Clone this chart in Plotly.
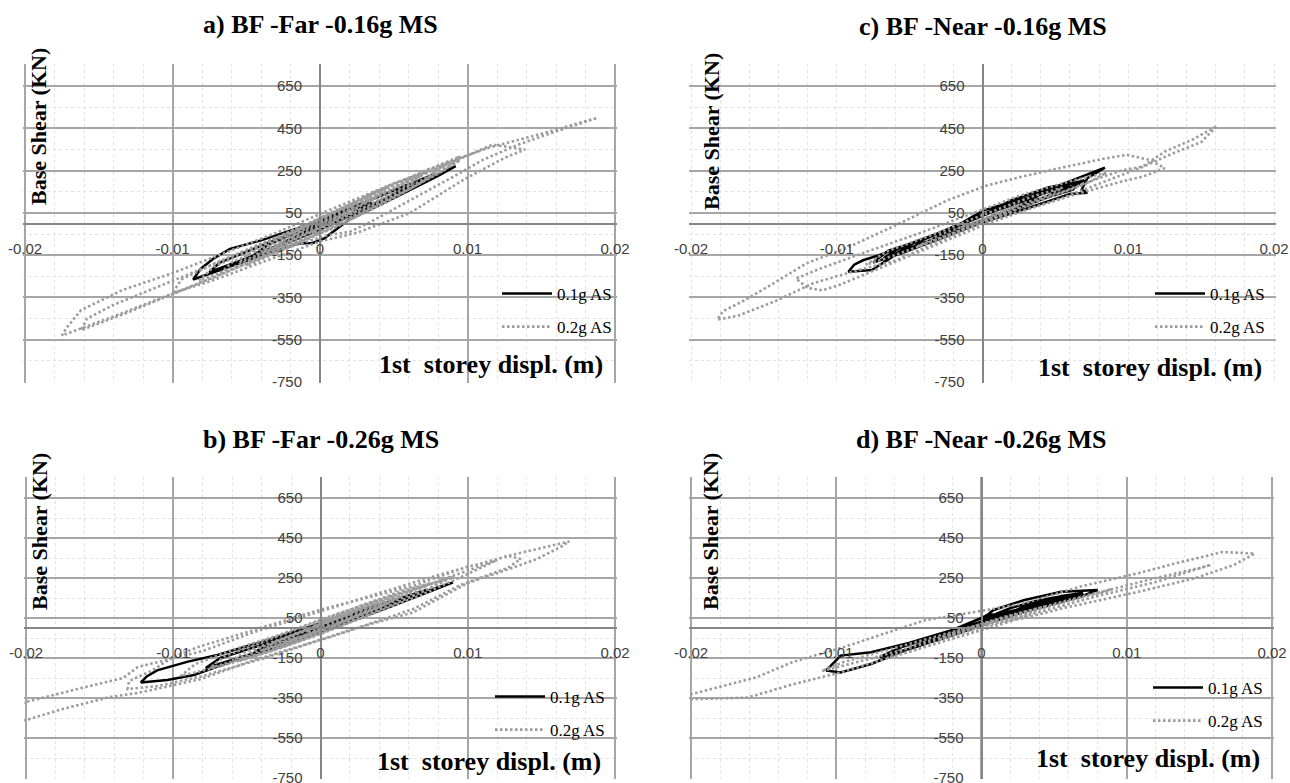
import plotly.graph_objects as go

# ---------------- data (displacement m, base shear kN) ----------------
SERIES_NAMES = ["0.1g AS", "0.2g AS"]
PANEL_TITLES = ["a) BF -Far -0.16g MS", "c) BF -Near -0.16g MS",
                "b) BF -Far -0.26g MS", "d) BF -Near -0.26g MS"]
X_TICKS = [-0.02, -0.01, 0, 0.01, 0.02]
X_TICK_TEXT = ["-0.02", "-0.01", "0", "0.01", "0.02"]
Y_TICKS = [-750, -550, -350, -150, 50, 250, 450, 650]
Y_TICK_TEXT = ["-750", "-550", "-350", "-150", "50", "250", "450", "650"]
X_LIMIT = 0.02
Y_LIMIT = 750
Y_TITLE = "Base Shear (KN)"
X_TITLE = "1st\u00a0 storey displ. (m)"

# a) Far 0.16g MS
FAR016_AS01 = [(0.0, -5), (0.003, 70), (0.006, 165), (0.0092, 271), (0.008, 225), (0.005, 120),
               (0.002, 20), (0.0003, -70), (-0.0005, -92), (-0.0015, -95), (-0.0035, -140),
               (-0.006, -200), (-0.0086, -265), (-0.0081, -215), (-0.0072, -165), (-0.0061, -120),
               (-0.004, -80), (-0.001, -10), (0.0025, 85), (0.006, 185), (0.0078, 235), (0.0065, 185),
               (0.0035, 85), (0.0005, -15), (-0.0025, -100), (-0.0055, -180), (-0.0075, -230),
               (-0.0068, -185), (-0.0045, -120), (-0.0015, -35), (0.0015, 55), (0.0045, 145),
               (0.006, 180), (0.0045, 120), (0.0015, 25), (-0.0015, -65), (-0.0045, -150),
               (-0.0035, -100), (-0.001, -25), (0.002, 65), (0.0035, 100), (0.002, 45),
               (-0.0005, -30), (-0.0025, -90), (-0.001, -40), (0.001, 25)]
FAR016_AS02 = [(0.0, 0), (0.003, 70), (0.006, 160), (0.0095, 300), (0.008, 235), (0.0045, 105),
               (0.001, -20), (-0.003, -130), (-0.007, -250), (-0.0105, -345), (-0.014, -440),
               (-0.0175, -530), (-0.0172, -495), (-0.0162, -410), (-0.0134, -315), (-0.01, -235),
               (-0.0065, -140), (-0.003, -45), (0.0005, 60), (0.0045, 175), (0.0085, 285),
               (0.0115, 360), (0.0145, 415), (0.0168, 460), (0.0188, 500), (0.0162, 440),
               (0.0135, 375), (0.011, 300), (0.009, 220), (0.0061, 110), (0.0035, 10), (0.002, -40),
               (0.0005, -55), (-0.002, -110), (-0.0055, -205), (-0.0095, -320), (-0.013, -420),
               (-0.0162, -505), (-0.0158, -450), (-0.014, -385), (-0.011, -300), (-0.0075, -200),
               (-0.004, -95), (0.0, 20), (0.004, 140), (0.008, 260), (0.0105, 335), (0.0117, 373),
               (0.0139, 350), (0.0125, 310), (0.0098, 210), (0.0061, 50), (0.0025, -44), (0.0, -85),
               (-0.004, -185), (-0.0075, -275), (-0.01, -330), (-0.0094, -265), (-0.007, -185),
               (-0.004, -100), (-0.001, -5), (0.0025, 100), (0.006, 215), (0.0095, 318),
               (0.0085, 255), (0.006, 165), (0.003, 60), (0.0, -40), (-0.004, -150), (-0.0065, -225),
               (-0.0082, -270), (-0.0072, -205), (-0.005, -135), (-0.002, -40), (0.001, 60),
               (0.004, 150), (0.0075, 262), (0.0065, 205), (0.004, 110), (0.001, 10), (-0.002, -85),
               (-0.0055, -185), (-0.0045, -125), (-0.002, -45), (0.001, 50), (0.0045, 170),
               (0.0035, 110), (0.001, 20), (-0.002, -80), (-0.004, -140), (-0.003, -80),
               (-0.001, -10), (0.002, 85), (0.0035, 130), (0.0025, 70), (0.0, -20), (-0.003, -110),
               (-0.002, -50), (0.0, 25), (0.0025, 100), (0.0015, 40), (-0.001, -40), (-0.002, -70),
               (-0.001, -20), (0.001, 50), (0.0, 0), (0.003, 100), (0.0065, 215), (0.0088, 290),
               (0.0075, 230), (0.005, 130), (0.002, 20), (-0.001, -70), (-0.004, -160),
               (-0.0068, -240), (-0.006, -185), (-0.004, -120), (-0.001, -15), (0.002, 90),
               (0.005, 190), (0.0082, 265), (0.007, 200), (0.0045, 100), (0.0015, 0),
               (-0.0015, -95), (-0.005, -200), (-0.0042, -140), (-0.0015, -50), (0.0015, 45),
               (0.0045, 145), (0.007, 240), (0.006, 180), (0.0035, 80), (0.0005, -25),
               (-0.0025, -120), (-0.0035, -130), (-0.002, -60), (0.001, 40), (0.0035, 145),
               (0.0055, 200), (0.0045, 130), (0.002, 40), (-0.0005, -50), (0.0, 0)]

# c) Near 0.16g MS
NEAR016_AS01 = [(0.0, 40), (0.003, 120), (0.0055, 185), (0.0084, 264), (0.0072, 215), (0.0068, 160),
                (0.0072, 145), (0.006, 140), (0.003, 70), (0.0, 5), (-0.003, -75), (-0.006, -150),
                (-0.0076, -220), (-0.0092, -228), (-0.0088, -195), (-0.0082, -174), (-0.0071, -150),
                (-0.005, -95), (-0.002, -20), (0.0, 60), (0.001, 82), (0.003, 120), (0.0055, 175),
                (0.007, 205), (0.0055, 150), (0.003, 90), (0.0005, 25), (-0.0025, -60),
                (-0.0055, -140), (-0.0075, -185), (-0.0065, -130), (-0.004, -75), (-0.001, 10),
                (0.002, 90), (0.005, 160), (0.006, 175), (0.0045, 125), (0.0015, 45), (-0.0015, -35),
                (-0.0045, -110), (-0.006, -145), (-0.0048, -95), (-0.002, -20), (0.001, 65),
                (0.004, 140), (0.003, 95), (0.0005, 30), (-0.0025, -50), (-0.004, -95),
                (-0.0025, -40), (0.0, 40), (0.002, 110), (0.0045, 170), (0.0068, 200),
                (0.0062, 160), (0.004, 115), (0.001, 40), (-0.002, -40), (-0.005, -115),
                (-0.0068, -165), (-0.0058, -120), (-0.0035, -60), (-0.0005, 30), (0.0025, 110),
                (0.0052, 165), (0.0045, 130), (0.002, 70), (-0.001, -10), (-0.0035, -80),
                (-0.005, -125), (-0.004, -75), (-0.0015, 0), (0.0015, 80), (0.0035, 120), (0.0, 40)]
NEAR016_AS02 = [(0.0, 20), (0.003, 100), (0.0055, 150), (0.008, 215), (0.0095, 250), (0.011, 270),
                (0.0125, 340), (0.0145, 400), (0.0161, 462), (0.015, 385), (0.013, 330),
                (0.011, 268), (0.009, 215), (0.0055, 121), (0.0025, 55), (0.0003, 12),
                (-0.003, -85), (-0.006, -175), (-0.009, -230), (-0.0116, -282), (-0.0142, -367),
                (-0.0168, -437), (-0.0182, -455), (-0.0178, -415), (-0.0165, -370), (-0.0145, -290),
                (-0.0121, -189), (-0.0092, -112), (-0.006, -10), (-0.0024, 110), (0.0003, 180),
                (0.0029, 225), (0.0055, 265), (0.0082, 305), (0.0099, 325), (0.0115, 300),
                (0.0125, 262), (0.011, 222), (0.0095, 198), (0.006, 130), (0.003, 65), (0.0, -10),
                (-0.0035, -110), (-0.007, -210), (-0.0098, -290), (-0.011, -316), (-0.012, -305),
                (-0.0128, -260), (-0.011, -210), (-0.008, -135), (-0.0045, -50), (-0.001, 40),
                (0.0025, 130), (0.006, 200), (0.0085, 240), (0.007, 185), (0.004, 110), (0.001, 30),
                (-0.0025, -60), (-0.006, -150), (-0.008, -195), (-0.0065, -130), (-0.0035, -55),
                (0.0, 40), (0.0035, 130), (0.0055, 170), (0.004, 115), (0.001, 35), (-0.002, -45),
                (-0.0045, -110), (-0.003, -55), (0.0, 20), (0.0025, 90), (0.001, 40),
                (-0.0015, -25), (0.0, 20)]

# b) Far 0.26g MS
FAR026_AS01 = [(0.0, 10), (0.003, 80), (0.006, 155), (0.009, 228), (0.0075, 185), (0.0045, 100),
               (0.0015, 20), (-0.0015, -60), (-0.005, -140), (-0.0086, -235), (-0.0104, -260),
               (-0.0122, -272), (-0.0118, -242), (-0.0111, -212), (-0.009, -168), (-0.007, -135),
               (-0.004, -70), (-0.001, 0), (0.0025, 80), (0.006, 160), (0.0072, 190), (0.006, 150),
               (0.003, 70), (0.0, -10), (-0.003, -90), (-0.006, -160), (-0.0078, -200),
               (-0.0068, -150), (-0.004, -85), (-0.001, -10), (0.0025, 70), (0.005, 130),
               (0.0035, 85), (0.0005, 5), (-0.0025, -75), (-0.0045, -120), (-0.003, -70),
               (0.0, 5), (0.0025, 60), (0.001, 15), (-0.0015, -40), (0.0, 10)]
FAR026_AS02 = [(0.0, 30), (0.004, 125), (0.008, 235), (0.0105, 300), (0.0127, 362), (0.0136, 345),
               (0.0127, 300), (0.0095, 215), (0.0063, 95), (0.0035, 25), (-0.0007, -75),
               (-0.0045, -160), (-0.0081, -255), (-0.01, -285), (-0.0124, -325), (-0.0143, -345),
               (-0.0175, -405), (-0.02, -460), (-0.0225, -505), (-0.023, -440), (-0.02, -370),
               (-0.0165, -305), (-0.0134, -250), (-0.0124, -195), (-0.01, -150), (-0.008, -115),
               (-0.0045, -20), (0.0, 85), (0.004, 175), (0.008, 265), (0.011, 325), (0.013, 365),
               (0.015, 400), (0.0169, 433), (0.0163, 405), (0.0147, 345), (0.0127, 292),
               (0.01, 225), (0.0063, 78), (0.0035, 22), (0.0, -60), (-0.004, -155), (-0.008, -240),
               (-0.011, -290), (-0.0131, -305), (-0.013, -265), (-0.0115, -215), (-0.01, -145),
               (-0.0083, -95), (-0.004, 0), (0.0, 92), (0.0063, 210), (0.0099, 305), (0.012, 340),
               (0.01, 270), (0.007, 170), (0.0035, 70), (0.0, -30), (-0.0035, -120),
               (-0.007, -195), (-0.0095, -240), (-0.0085, -180), (-0.006, -110), (-0.003, -40),
               (0.0005, 55), (0.004, 140), (0.0075, 225), (0.0065, 180), (0.004, 110), (0.001, 20),
               (-0.0025, -75), (-0.006, -160), (-0.005, -115), (-0.0025, -50), (0.0005, 35),
               (0.004, 120), (0.0055, 160), (0.004, 105), (0.001, 15), (-0.002, -65),
               (-0.004, -115), (-0.003, -65), (-0.0005, 5), (0.0025, 80), (0.004, 120),
               (0.0025, 65), (0.0, -5), (-0.0025, -75), (-0.0015, -30), (0.0005, 30), (0.002, 70),
               (0.0005, 20), (-0.001, -20), (0.0, 30), (0.003, 120), (0.0065, 200), (0.009, 255),
               (0.0075, 200), (0.005, 120), (0.002, 40), (-0.001, -45), (-0.0045, -135),
               (-0.0075, -200), (-0.0065, -140), (-0.004, -70), (-0.001, 10), (0.0025, 105),
               (0.0055, 185), (0.0085, 240), (0.007, 185), (0.0045, 105), (0.0015, 15),
               (-0.002, -80), (-0.0055, -165), (-0.0045, -110), (-0.002, -40), (0.0015, 60),
               (0.0045, 150), (0.0065, 200), (0.0055, 150), (0.003, 75), (0.0, -15),
               (-0.003, -100), (-0.0035, -90), (-0.0015, -25), (0.001, 50), (0.0035, 125),
               (0.005, 160), (0.0035, 100), (0.001, 25), (0.0, 30)]

# d) Near 0.26g MS
NEAR026_AS01 = [(0.0, 40), (0.0008, 89), (0.0029, 139), (0.0055, 181), (0.008, 190), (0.0075, 175),
                (0.0068, 156), (0.0045, 110), (0.0029, 81), (0.001, 40), (-0.001, -10),
                (-0.004, -75), (-0.0076, -180), (-0.0097, -222), (-0.0107, -213), (-0.0097, -138),
                (-0.0076, -121), (-0.005, -75), (-0.002, -10), (0.0, 50), (0.0005, 70),
                (0.0015, 60), (0.003, 110), (0.0055, 160), (0.007, 175), (0.0055, 140),
                (0.003, 90), (0.001, 45), (-0.0015, -20), (-0.0045, -95), (-0.007, -145),
                (-0.0055, -95), (-0.003, -40), (-0.0005, 20), (0.002, 80), (0.0045, 135),
                (0.006, 155), (0.0045, 115), (0.002, 60), (-0.0005, 0), (-0.003, -60),
                (-0.0045, -90), (-0.003, -50), (0.0, 30), (0.0025, 85), (0.001, 50), (0.0, 40),
                (0.002, 100), (0.004, 140), (0.0065, 170), (0.0058, 145), (0.0035, 110),
                (0.0015, 75), (0.0035, 95), (0.005, 130), (0.004, 120), (0.001, 60), (0.0, 40)]
NEAR026_AS02 = [(0.0, 15), (0.003, 50), (0.0055, 97), (0.0108, 181), (0.0147, 249), (0.0174, 316),
                (0.0188, 372), (0.0166, 380), (0.0134, 324), (0.0108, 274), (0.0068, 207),
                (0.0029, 123), (0.0003, 89), (-0.0039, 39), (-0.0095, -96), (-0.013, -170),
                (-0.0155, -247), (-0.02, -331), (-0.0222, -360), (-0.0222, -380), (-0.02, -356),
                (-0.0161, -348), (-0.0129, -280), (-0.0097, -222), (-0.005, -120), (-0.001, -30),
                (0.003, 60), (0.008, 160), (0.012, 230), (0.0158, 316), (0.015, 300),
                (0.012, 250), (0.008, 175), (0.004, 95), (0.0, 10), (-0.004, -80), (-0.008, -160),
                (-0.011, -215), (-0.0095, -170), (-0.006, -100), (-0.002, -20), (0.002, 60),
                (0.006, 140), (0.009, 195), (0.0075, 150), (0.004, 80), (0.0005, 0),
                (-0.003, -75), (-0.0065, -150), (-0.005, -95), (-0.002, -25), (0.0015, 55),
                (0.0045, 110), (0.003, 65), (0.0, 5), (-0.003, -60), (-0.0015, -20),
                (0.001, 35), (0.0, 15)]

# ---------------- layout helpers ----------------
W, H = 1290, 783
PAD = 1.006  # tiny range padding so the edge grid lines (plot frame) are drawn
SERIF = "Liberation Serif"
SANS = "Liberation Sans"
GRID = "#a6a6a6"
AXIS = "#868686"
TICKC = "#404040"


def fx(p):
    return p / W


def fy(p):
    return 1 - p / H


PANELS = [
    dict(key="", leg="legend", xs=(25, 615), ys=(65, 382), vgrid=True,
         s1=FAR016_AS01, s2=FAR016_AS02, title=PANEL_TITLES[0], ty=25,
         ylx=39, yly=127, xlx=605, xly=364, lx=497, ly=276),
    dict(key="2", leg="legend2", xs=(691, 1274), ys=(65, 382), vgrid=False,
         s1=NEAR016_AS01, s2=NEAR016_AS02, title=PANEL_TITLES[1], ty=26,
         ylx=712, yly=132, xlx=1264, xly=367, lx=1150, ly=276),
    dict(key="3", leg="legend3", xs=(26, 615), ys=(478, 778), vgrid=True,
         s1=FAR026_AS01, s2=FAR026_AS02, title=PANEL_TITLES[2], ty=439,
         ylx=39, yly=532, xlx=603, xly=761, lx=490, ly=679),
    dict(key="4", leg="legend4", xs=(691, 1272), ys=(478, 778), vgrid=True,
         s1=NEAR026_AS01, s2=NEAR026_AS02, title=PANEL_TITLES[3], ty=439,
         ylx=710, yly=532, xlx=1262, xly=758, lx=1148, ly=670),
]

fig = go.Figure()
annotations = []
layout = dict(width=W, height=H, autosize=False,
              margin=dict(l=0, r=0, t=0, b=0, pad=0, autoexpand=False),
              paper_bgcolor="white", plot_bgcolor="white", showlegend=True)

for p in PANELS:
    k = p["key"]
    xref, yref = "x" + k, "y" + k
    for i, (series, name) in enumerate(zip((p["s1"], p["s2"]), SERIES_NAMES)):
        xs = [pt[0] for pt in series]
        ys = [pt[1] for pt in series]
        if i == 0:
            line = dict(color="black", width=2.5)
        else:
            line = dict(color="#9c9c9c", width=2.6, dash="2.5px,2.5px")
        fig.add_trace(go.Scatter(x=xs, y=ys, mode="lines", name=name, line=line,
                                 xaxis=xref, yaxis=yref, legend=p["leg"],
                                 legendgroup=p["leg"] + str(i), hoverinfo="skip"))

    x0, x1 = p["xs"]
    y0, y1 = p["ys"]
    cx, hx = (x0 + x1) / 2, (x1 - x0) / 2 * PAD
    cy, hy = (y0 + y1) / 2, (y1 - y0) / 2 * PAD
    xdom = [fx(cx - hx), fx(cx + hx)]
    ydom = [fy(cy + hy), fy(cy - hy)]
    layout["xaxis" + k] = dict(
        domain=xdom, range=[-X_LIMIT * PAD, X_LIMIT * PAD], anchor="free", position=fy(cy),
        tickvals=X_TICKS, ticktext=X_TICK_TEXT, ticks="outside", ticklen=11,
        tickcolor="rgba(0,0,0,0)", tickfont=dict(family=SANS, size=15, color=TICKC),
        showline=True, linecolor=AXIS, linewidth=2, zeroline=False, automargin=False,
        ticklabeloverflow="allow",
        showgrid=p["vgrid"], gridcolor=GRID, gridwidth=2,
        minor=dict(dtick=0.002, tick0=-0.02, showgrid=True, gridcolor="#e3e3e3",
                   griddash="dot", gridwidth=1),
        fixedrange=True)
    layout["yaxis" + k] = dict(
        domain=ydom, range=[-Y_LIMIT * PAD, Y_LIMIT * PAD], anchor="free", position=fx(cx),
        tickvals=Y_TICKS, ticktext=Y_TICK_TEXT, ticks="outside", ticklen=14,
        tickcolor="rgba(0,0,0,0)", tickfont=dict(family=SANS, size=15, color=TICKC),
        showline=True, linecolor=AXIS, linewidth=2, zeroline=False, automargin=False,
        ticklabeloverflow="allow",
        showgrid=True, gridcolor=GRID, gridwidth=2,
        minor=dict(dtick=100, tick0=-750, showgrid=True, gridcolor="#e3e3e3",
                   griddash="dot", gridwidth=1),
        fixedrange=True)
    layout[p["leg"]] = dict(
        x=fx(p["lx"]), y=fy(p["ly"]), xanchor="left", yanchor="top",
        bgcolor="rgba(0,0,0,0)", borderwidth=0, traceorder="grouped", itemwidth=50,
        tracegroupgap=8, font=dict(family=SERIF, size=17, color="black"))

    annotations.append(dict(text="<b>" + p["title"] + "</b>", x=fx(cx), y=fy(p["ty"]),
                            xref="paper", yref="paper", xanchor="center", yanchor="middle",
                            showarrow=False, font=dict(family=SERIF, size=26, color="black")))
    annotations.append(dict(text="<b>" + Y_TITLE + "</b>", x=fx(p["ylx"]), y=fy(p["yly"]),
                            xref="paper", yref="paper", xanchor="center", yanchor="middle",
                            textangle=-90, showarrow=False,
                            font=dict(family=SERIF, size=22, color="black")))
    annotations.append(dict(text="<b>" + X_TITLE + "</b>", x=fx(p["xlx"]), y=fy(p["xly"]),
                            xref="paper", yref="paper", xanchor="right", yanchor="middle",
                            showarrow=False, font=dict(family=SERIF, size=26, color="black")))

layout["annotations"] = annotations
fig.update_layout(**layout)
fig.write_html("out.html", config={"displayModeBar": False},
               post_script="document.body.style.margin='0';document.body.style.overflow='hidden';")
